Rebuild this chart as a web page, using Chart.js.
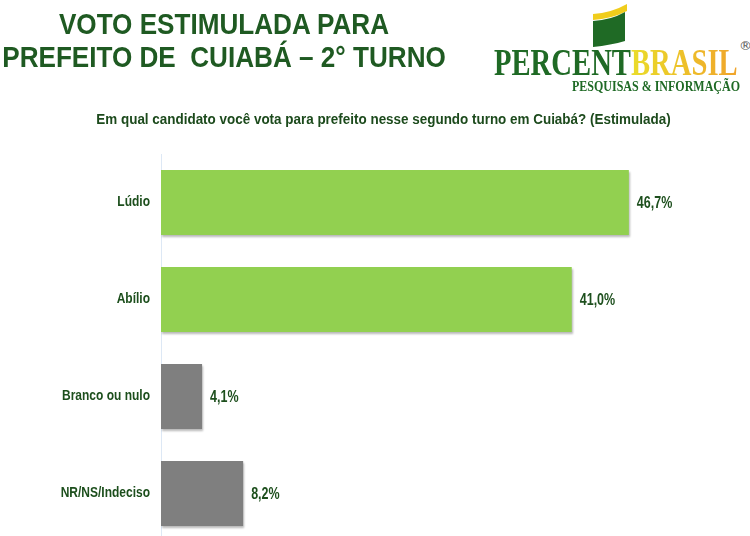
<!DOCTYPE html>
<html>
<head>
<meta charset="utf-8">
<script src="https://cdn.jsdelivr.net/npm/chart.js@4"></script>
<style>
  html, body { margin: 0; padding: 0; background: #fff; overflow: hidden; width: 750px; height: 536px; }
  body { position: relative; font-family: "Liberation Sans", Arial, sans-serif; }
  .title { position: absolute; left: -56px; width: 560px; text-align: center; color: #1f5a22; font-weight: bold; font-size: 30px; line-height: 33px; top: 7px; white-space: pre; transform: scaleX(0.87); transform-origin: 280px 0; }
  .subtitle { position: absolute; left: 0; width: 767px; text-align: center; top: 111px; font-size: 14px; font-weight: bold; color: #1c4a1c; transform: scaleX(0.96); transform-origin: 383px 0; white-space: nowrap; }
  .fit { position: absolute; display: inline-block; white-space: nowrap; transform-origin: 0 0; font-family: "Liberation Serif", "DejaVu Serif", serif; font-weight: bold; }
  .brand { left: 494px; top: 43px; font-size: 37px; line-height: 40px; }
  .brand .p { color: #1f6a25; }
  .brand .b { background: linear-gradient(90deg, #eadc2a, #f0a32a); -webkit-background-clip: text; background-clip: text; color: transparent; }
  .reg { position: absolute; left: 739px; top: 38px; font-size: 13px; color: #555; font-family: "DejaVu Sans", sans-serif; }
  .tag { left: 572px; top: 78px; font-size: 15px; line-height: 16px; color: #1f6a25; }
  #myChart { position: absolute; left: 0; top: 0; }
</style>
</head>
<body>
<div class="title">VOTO ESTIMULADA PARA
PREFEITO DE  CUIABÁ – 2° TURNO</div>
<svg width="260" height="60" viewBox="0 0 260 60" style="position:absolute;left:490px;top:0">
  <path d="M103 14 Q121 13 137 4 L137 11 Q121 19 103 20 Z" fill="#f0cd1c"/>
  <path d="M103 21 Q121 20 135 12 L135 41 Q121 45 103 47 Z" fill="#1f6a25"/>
</svg>
<div class="fit brand" data-w="244"><span class="p">PERCENT</span><span class="b">BRASIL</span></div>
<div class="reg">®</div>
<div class="fit tag" data-w="168">PESQUISAS &amp; INFORMAÇÃO</div>
<div class="subtitle">Em qual candidato você vota para prefeito nesse segundo turno em Cuiabá? (Estimulada)</div>
<canvas id="myChart" width="750" height="546"></canvas>
<script>
var categories = ['Lúdio', 'Abílio', 'Branco ou nulo', 'NR/NS/Indeciso'];
var votos = [46.7, 41.0, 4.1, 8.2];
var cores = ['#92d050', '#92d050', '#7f7f7f', '#7f7f7f'];

var fonte = '"Liberation Sans", Arial, sans-serif';
var verdeTexto = '#1d4f1d';

// squeeze logo text to its width
document.querySelectorAll('.fit').forEach(function (el) {
    var alvo = parseFloat(el.getAttribute('data-w'));
    el.style.transform = 'scaleX(' + (alvo / el.offsetWidth) + ')';
});

// narrow text, like Arial Narrow
function textoEstreito(c, txt, x, y, escala, alinhar) {
    c.save();
    c.translate(x, y);
    c.scale(escala, 1);
    c.textAlign = alinhar;
    c.fillText(txt, 0, 0);
    c.restore();
}

// shadow under the bars
var sombra = {
    id: 'sombra',
    beforeDatasetsDraw: function (chart) {
        var c = chart.ctx;
        c.save();
        c.shadowColor = 'rgba(0,0,0,0.28)';
        c.shadowBlur = 2;
        c.shadowOffsetX = 1;
        c.shadowOffsetY = 2;
    },
    afterDatasetsDraw: function (chart) {
        chart.ctx.restore();
    }
};

// category names and value labels
var rotulos = {
    id: 'rotulos',
    afterDraw: function (chart) {
        var c = chart.ctx;
        var meta = chart.getDatasetMeta(0);
        var eixo = chart.scales.y;
        c.save();
        c.font = 'bold 15px ' + fonte;
        c.fillStyle = verdeTexto;
        c.textBaseline = 'middle';
        categories.forEach(function (nome, i) {
            textoEstreito(c, nome, eixo.right - 11, eixo.getPixelForTick(i) - 1, 0.8, 'right');
        });
        c.font = 'bold 16px ' + fonte;
        meta.data.forEach(function (bar, i) {
            var txt = votos[i].toFixed(1).replace('.', ',') + '%';
            textoEstreito(c, txt, bar.x + 8, bar.y + 1, 0.78, 'left');
        });
        c.restore();
    }
};

var ctx = document.getElementById('myChart').getContext('2d');
var chart = new Chart(ctx, {
    type: 'bar',
    data: {
        labels: categories,
        datasets: [{
            data: votos,
            backgroundColor: cores,
            borderWidth: 0,
            barPercentage: 1,
            categoryPercentage: 0.67
        }]
    },
    options: {
        indexAxis: 'y',
        responsive: false,
        animation: false,
        devicePixelRatio: 1,
        layout: { padding: { top: 154, bottom: 4, left: 0, right: 38 } },
        plugins: {
            legend: { display: false },
            tooltip: { enabled: false }
        },
        scales: {
            x: {
                display: false,
                min: 0,
                max: 55
            },
            y: {
                afterFit: function (scale) { scale.width = 161; },
                grid: { display: false, drawTicks: false },
                border: { display: true, color: '#dde8f5', width: 1 },
                ticks: { display: false }
            }
        }
    },
    plugins: [sombra, rotulos]
});
</script>
</body>
</html>
